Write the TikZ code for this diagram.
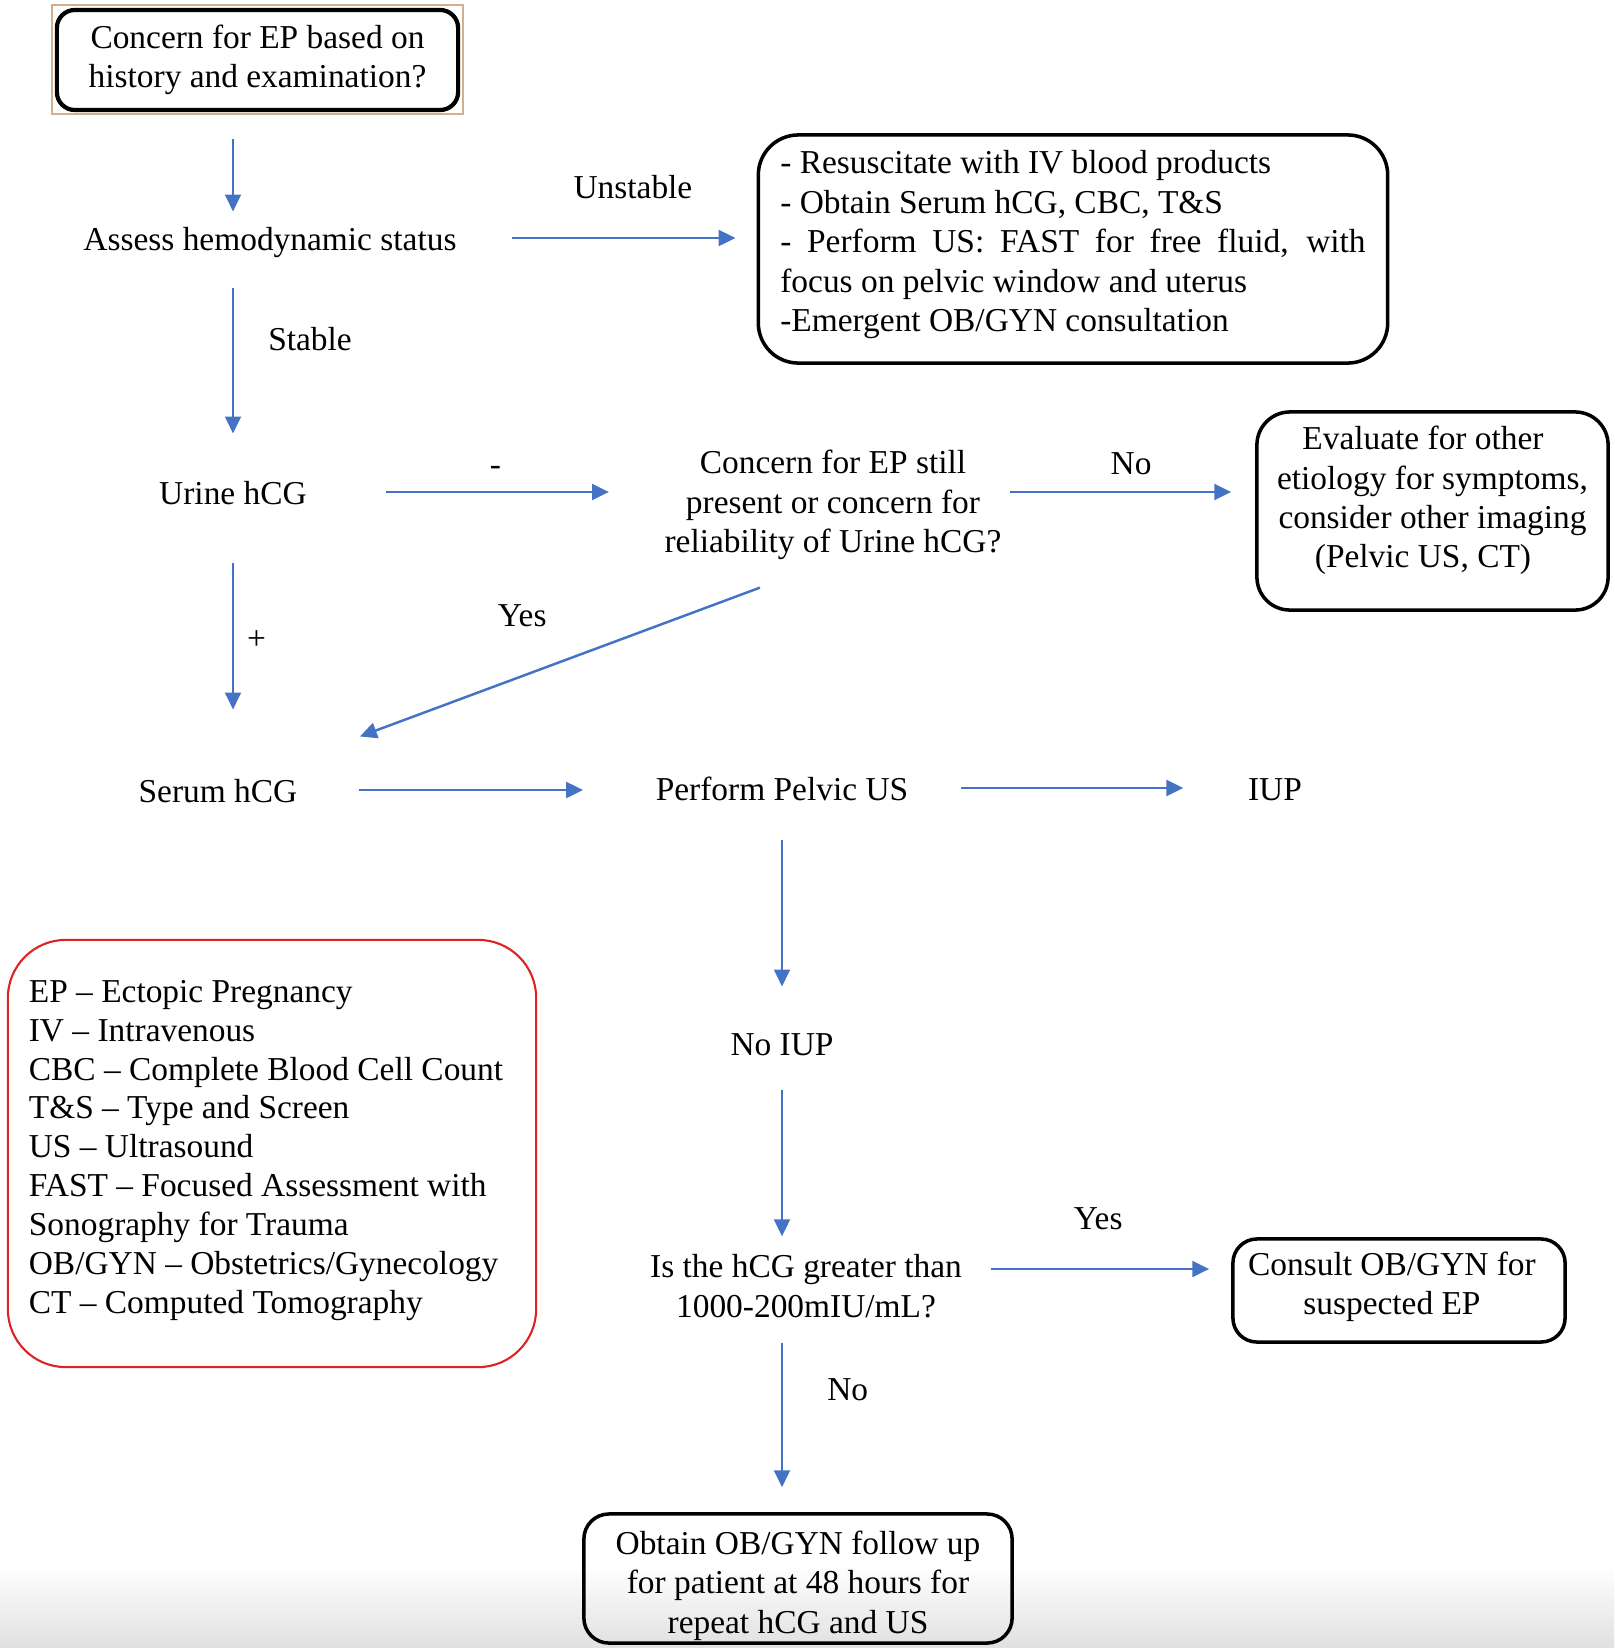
\documentclass[tikz,border=0pt]{standalone}
\usepackage{fontspec}
\setmainfont{Liberation Serif}
\usetikzlibrary{arrows.meta}
\definecolor{arrowblue}{RGB}{68,114,196}
\definecolor{legendred}{RGB}{222,35,35}
\definecolor{tanline}{RGB}{210,175,145}
\begin{document}
\begin{tikzpicture}[x=0.01cm, y=-0.01cm, font=\fontsize{9.5}{11.2}\selectfont]
    \tikzset{box/.style = {draw, line width=1pt, rounded corners=#1, align=center, inner sep=0pt}}
    \tikzset{txt/.style = {inner sep=0pt, text height=8pt, text depth=1pt}}
    \tikzset{arr/.style = {draw=arrowblue, line width=0.7pt, -{Triangle[length=4.8pt, width=4.5pt]}}}
    \useasboundingbox (0,0) rectangle (1614,1648);
    \shade[top color=white, bottom color=black!12] (0,1565) rectangle (1614,1648);
    % start box
    \node[box=1.8mm, line width=1.2pt, minimum width=40.1mm, minimum height=10mm] (start) at (257.5,60) {Concern for EP based on\\history and examination?};
    \draw[tanline, line width=0.5pt] ([shift={(-3,-3)}]start.north west) rectangle ([shift={(3,2)}]start.south east);
    % left column
    \node[txt] (assess) at (270,238) {Assess hemodynamic status};
    \node[txt] (urine) at (233,492) {Urine hCG};
    \node[txt] (serum) at (218,790) {Serum hCG};
    % unstable branch and negative urine test
    \node[box=4mm, inner xsep=2.2mm, minimum height=22.8mm, align=left] (unstable) at (1073,249) {- Resuscitate with IV blood products\\- Obtain Serum hCG, CBC, T\&S\\\hbox to 58.5mm{- Perform US: FAST for free fluid, with}\\focus on pelvic window and uterus\\-Emergent OB/GYN consultation\rule[-4.5pt]{0pt}{0pt}};
    \node[align=center, inner sep=0pt] (concern) at (833,505) {Concern for EP still\\present or concern for\\reliability of Urine hCG?};
    \node[box=3.3mm, minimum width=35.1mm, minimum height=19.8mm] (other) at (1432.5,511) {Evaluate for other\hspace*{5.4pt}\\etiology for symptoms,\hspace*{5.4pt}\\consider other imaging\hspace*{5.4pt}\\(Pelvic US, CT)\hspace*{5.4pt}\rule[-8pt]{0pt}{0pt}};
    % pelvic ultrasound and hCG level
    \node[txt] (pelvic) at (782,788) {Perform Pelvic US};
    \node[txt] (iup) at (1275,788) {IUP};
    \node[txt] (noiup) at (782,1043) {No IUP};
    \node[align=center, inner sep=0pt] (hcglevel) at (806,1286) {Is the hCG greater than\\1000-200mIU/mL?};
    \node[box=2.4mm, minimum width=33.2mm, minimum height=10.3mm] (consult) at (1399,1290.5) {Consult OB/GYN for\hspace*{4pt}\\suspected EP\hspace*{4pt}\rule[-4.3pt]{0pt}{0pt}};
    \node[box=2.5mm, minimum width=42.8mm, minimum height=12.9mm] (followup) at (798,1578.5) {\rule{0pt}{10.7pt}Obtain OB/GYN follow up\\for patient at 48 hours for\\repeat hCG and US};
    % abbreviations
    \node[draw=legendred, line width=0.6pt, rounded corners=5.8mm, inner xsep=2.1mm, inner ysep=0pt, minimum width=52.8mm, minimum height=42.7mm, align=left, font=\fontsize{9.5}{11.05}\selectfont] (legend) at (272,1153.5) {\makebox[48.6mm][l]{EP – Ectopic Pregnancy}\\IV – Intravenous\\CBC – Complete Blood Cell Count\\T\&S – Type and Screen\\US – Ultrasound\\FAST – Focused Assessment with\\Sonography for Trauma\\OB/GYN – Obstetrics/Gynecology\\CT – Computed Tomography\rule[-3.9pt]{0pt}{0pt}};
    % arrows down the left column
    \draw[arr, shorten <=2.7mm, shorten >=1.0mm] (start.south -| urine) to (assess.north -| urine);
    \draw[arr, shorten <=3.3mm, shorten >=4.2mm] (assess.south -| urine) to node[txt, pos=0.38, right=3.4mm] {Stable} (urine.north);
    \draw[arr, shorten <=5.4mm, shorten >=6.4mm] (urine.south) to node[txt, pos=0.485, right=1.3mm] {+} (serum.north -| urine);
    % arrows to the right
    \draw[arr, shorten <=5.5mm, shorten >=2.1mm] (assess.east) to node[txt, pos=0.587, above=3.5mm] {Unstable} (assess.east -| unstable.west);
    \draw[arr, shorten <=7.8mm, shorten >=5.5mm] (urine.east) to node[txt, pos=0.527, above=1.2mm] {-} (urine.east -| concern.west);
    \draw[arr, shorten <=0.8mm, shorten >=2.4mm] (concern.east |- urine) to node[txt, pos=0.51, above=1.3mm] {No} (other.west |- urine);
    \draw[arr, shorten <=7.8mm, shorten >=6.6mm] (concern.south) to node[txt, pos=0.581, above=4.5mm] {Yes} ([yshift=1.4mm]serum.north east);
    \draw[arr, shorten <=6.1mm, shorten >=7.2mm] (serum.east) to (serum.east -| pelvic.west);
    \draw[arr, shorten <=5.2mm, shorten >=6.4mm] (pelvic.east) to (pelvic.east -| iup.west);
    % arrows down the middle column
    \draw[arr, shorten <=3.5mm, shorten >=4.0mm] (pelvic.south) to (noiup.north);
    \draw[arr, shorten <=3.0mm, shorten >=1.75mm] (noiup.south) to (hcglevel.north -| noiup);
    \draw[arr, shorten <=2.8mm, shorten >=2.2mm] ([yshift=1.7mm]hcglevel.east) to node[txt, pos=0.505, above=3.5mm] {Yes} ([yshift=1.7mm]hcglevel.east -| consult.west);
    \draw[arr, shorten <=2.45mm, shorten >=2.5mm] (hcglevel.south -| noiup) to node[txt, pos=0.36, right=4.4mm] {No} (followup.north -| noiup);
\end{tikzpicture}
\end{document}
